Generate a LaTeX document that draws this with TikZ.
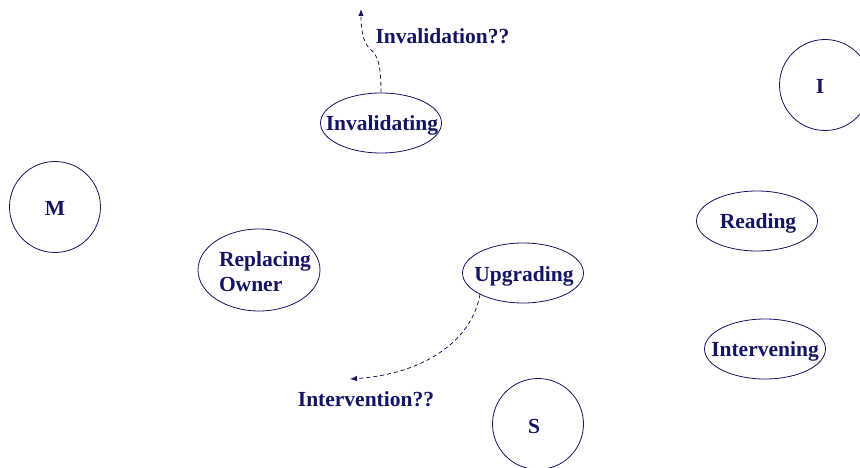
\documentclass[tikz,border=0pt]{standalone}
\usepackage{fontspec}
\setmainfont{Liberation Serif}
\usetikzlibrary{shapes.geometric,arrows.meta}
\definecolor{ink}{RGB}{20,20,100}
\begin{document}
\begin{tikzpicture}[x=1pt,y=-1pt,
  every node/.style={text=ink,font=\fontsize{21.5}{25}\selectfont\bfseries},
  state/.style={draw=ink,line width=0.8pt,circle,inner sep=0pt,minimum size=91pt},
  activity/.style={draw=ink,line width=0.8pt,ellipse,inner sep=0pt,minimum width=121pt,minimum height=60pt},
  guess/.style={draw=ink,line width=0.8pt,dashed,dash pattern=on 4pt off 3pt,-{Latex[length=7pt,width=5.5pt]}}]
\useasboundingbox (0,0) rectangle (860,468);

% protocol states
\node[state] (M) at (55,207) {};
\node (Mlbl) at (55,208) {M};
\node[state] (I) at (825,85) {};
\node (Ilbl) at (820,86) {I};
\node[state] (S) at (538,424) {};
\node (Slbl) at (534,426) {S};

% transient activities: fixed-size outlines with the text set on top
\node[activity] (inv) at (381,123) {};
\node (invlbl) at (382,125) {Invalidating};
\node[activity,minimum width=122pt,minimum height=82pt] (rep) at (259,270) {};
\node[align=left] (replbl) at (265,272) {Replacing\\Owner};
\node[activity] (upg) at (523,273) {};
\node (upglbl) at (524,276) {Upgrading};
\node[activity] (rd) at (757,221) {};
\node (rdlbl) at (758,223) {Reading};
\node[activity] (itv) at (765,349) {};
\node (itvlbl) at (765,351) {Intervening};

% open questions
\coordinate (invtip) at (361,9);
\coordinate (itvtip) at (350,379);
\draw[guess] (inv.north) .. controls (381,65) and (378,55) .. (370,49)
  .. controls (363,42) and (361,30) .. (invtip);
\draw[guess] (upg.south west) .. controls (472,340) and (425,374) .. (itvtip);

\node[anchor=west] (invq) at (372,36) {Invalidation??};
\node (itvq) at (366,399) {Intervention??};
\end{tikzpicture}
\end{document}
